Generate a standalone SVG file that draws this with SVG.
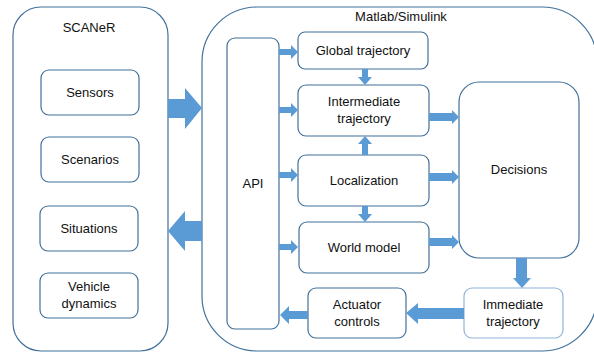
<svg xmlns="http://www.w3.org/2000/svg" width="594" height="354" viewBox="0 0 594 354">
<style>
.box{fill:#fff;stroke:#41719C;stroke-width:1.2}
.light{fill:#fff;stroke:#8FB4D9;stroke-width:1.2}
.arr{fill:#5B9BD5}
text{font-family:"Liberation Sans",Arial,sans-serif;font-size:13px;fill:#111;text-anchor:middle}
</style>
<rect width="594" height="354" fill="#fff"/>
<g id="scaner">
<rect class="box" x="13" y="7" width="155" height="344" rx="28"/>
<text x="89" y="32">SCANeR</text>
</g>
<g id="matlab">
<rect class="box" x="202" y="7" width="395" height="344" rx="55"/>
<text x="401" y="21">Matlab/Simulink</text>
</g>
<g id="sensors"><rect class="box" x="41" y="70" width="98" height="45" rx="8"/><text x="90" y="97">Sensors</text></g>
<g id="scenarios"><rect class="box" x="41" y="137" width="98" height="45" rx="8"/><text x="90" y="164">Scenarios</text></g>
<g id="situations"><rect class="box" x="40" y="206" width="98" height="45" rx="8"/><text x="89" y="233">Situations</text></g>
<g id="vehicle"><rect class="box" x="40" y="273" width="98" height="45" rx="8"/><text x="89" y="291">Vehicle</text><text x="89" y="308">dynamics</text></g>
<g id="api"><rect class="box" x="227" y="38" width="52" height="291" rx="8"/><text x="253" y="188">API</text></g>
<g id="global"><rect class="box" x="298" y="32" width="130" height="37" rx="7"/><text x="363" y="55">Global trajectory</text></g>
<g id="intermediate"><rect class="box" x="298" y="85" width="131" height="51" rx="8"/><text x="364" y="106">Intermediate</text><text x="364" y="123">trajectory</text></g>
<g id="localization"><rect class="box" x="298" y="155" width="131" height="51" rx="8"/><text x="364" y="185">Localization</text></g>
<g id="world"><rect class="box" x="299" y="222" width="130" height="51" rx="8"/><text x="364" y="252">World model</text></g>
<g id="decisions"><rect class="box" x="459" y="82" width="120" height="176" rx="20"/><text x="519" y="174">Decisions</text></g>
<g id="immediate"><rect class="light" x="464" y="288" width="99" height="50" rx="8"/><text x="513" y="309">Immediate</text><text x="513" y="326">trajectory</text></g>
<g id="actuator"><rect class="box" x="308" y="288" width="98" height="50" rx="8"/><text x="357" y="309">Actuator</text><text x="357" y="326">controls</text></g>
<g id="connectors">
<polygon class="arr" points="168,99 185,99 185,88 202,108 185,129 185,118 168,118"/>
<polygon class="arr" points="202,221 185,221 185,211 168,231 185,251 185,241 202,241"/>
<polygon class="arr" points="279,49 291,49 291,45 298,52 291,59 291,55 279,55"/>
<polygon class="arr" points="279,107 291,107 291,103 298,110 291,117 291,113 279,113"/>
<polygon class="arr" points="279,172 291,172 291,168 298,175 291,182 291,178 279,178"/>
<polygon class="arr" points="279,244 291,244 291,240 298,247 291,254 291,250 279,250"/>
<polygon class="arr" points="362,69 368,69 368,77 372,77 365,85 358,77 362,77"/>
<polygon class="arr" points="362,155 368,155 368,144 372,144 365,136 358,144 362,144"/>
<polygon class="arr" points="362,206 368,206 368,214 372,214 365,222 358,214 362,214"/>
<polygon class="arr" points="429,113 452,113 452,110 459,117 452,124 452,121 429,121"/>
<polygon class="arr" points="429,173 452,173 452,170 459,177 452,184 452,181 429,181"/>
<polygon class="arr" points="429,238 452,238 452,235 459,242 452,249 452,246 429,246"/>
<polygon class="arr" points="516,258 527,258 527,278 531,278 522,288 513,278 516,278"/>
<polygon class="arr" points="464,308 418,308 418,303 406,313 418,324 418,319 464,319"/>
<polygon class="arr" points="308,311 289,311 289,306 280,315 289,324 289,319 308,319"/>
</g>
</svg>
